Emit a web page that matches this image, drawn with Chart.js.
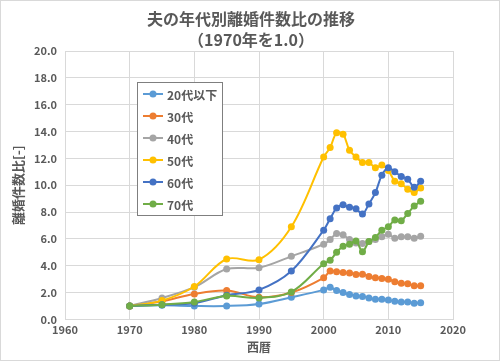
<!DOCTYPE html>
<html>
<head>
<meta charset="utf-8">
<script src="https://cdn.jsdelivr.net/npm/chart.js@4/dist/chart.umd.min.js"></script>
<style>
  html, body { margin: 0; padding: 0; background: #fff; }
  #wrap { width: 500px; height: 361px; position: relative; }
</style>
</head>
<body>
<div id="wrap"><canvas id="divorceChart" width="500" height="361"></canvas></div>
<script>
const years = [1970, 1975, 1980, 1985, 1990, 1995,
  2000, 2001, 2002, 2003, 2004, 2005, 2006, 2007, 2008, 2009, 2010, 2011, 2012, 2013, 2014, 2015];

const titleLines = ['夫の年代別離婚件数比の推移', '（1970年を1.0）'];
const seriesNames = ['20代以下', '30代', '40代', '50代', '60代', '70代'];
const seriesColors = ['#5B9BD5', '#ED7D31', '#A5A5A5', '#FFC000', '#4472C4', '#70AD47'];

const age20 = [1.0, 1.05, 1.0, 1.0, 1.15, 1.65,
  2.2, 2.4, 2.15, 2.0, 1.85, 1.75, 1.7, 1.6, 1.5, 1.5, 1.45, 1.35, 1.3, 1.3, 1.2, 1.25];
const age30 = [1.0, 1.35, 1.9, 2.15, 1.65, 2.0,
  3.1, 3.6, 3.55, 3.5, 3.45, 3.35, 3.37, 3.2, 3.1, 3.05, 3.0, 2.8, 2.7, 2.65, 2.5, 2.5];
const age40 = [1.0, 1.6, 2.4, 3.75, 3.85, 4.7,
  5.6, 5.95, 6.4, 6.3, 5.95, 5.7, 5.65, 5.8, 5.95, 6.15, 6.35, 6.05, 6.15, 6.15, 6.05, 6.2];
const age50 = [1.0, 1.4, 2.45, 4.5, 4.45, 6.9,
  12.1, 12.8, 13.9, 13.8, 12.6, 12.1, 11.7, 11.7, 11.3, 11.5, 11.1, 10.3, 10.1, 9.7, 9.45, 9.8];
const age60 = [1.0, 1.1, 1.2, 1.8, 2.2, 3.6,
  6.65, 7.5, 8.3, 8.55, 8.35, 8.25, 7.85, 8.6, 9.45, 10.75, 11.3, 11.0, 10.65, 10.45, 9.85, 10.3];
const age70 = [1.0, 1.1, 1.3, 1.75, 1.6, 2.05,
  4.15, 4.4, 5.0, 5.45, 5.6, 5.85, 5.05, 5.8, 6.1, 6.65, 6.9, 7.4, 7.35, 7.9, 8.45, 8.8];

const allSeries = [age20, age30, age40, age50, age60, age70];

const textColor = '#595959';
const jpFont = '"Noto Sans CJK JP", "Noto Sans", sans-serif';

// background, outer frame and the two-line title (centred on the whole canvas)
const frame = {
  id: 'frame',
  beforeDraw(chart) {
    const ctx = chart.ctx;
    ctx.save();
    ctx.fillStyle = '#fff';
    ctx.fillRect(0, 0, chart.width, chart.height);
    ctx.strokeStyle = '#d9d9d9';
    ctx.lineWidth = 1;
    ctx.strokeRect(0.5, 0.5, chart.width - 1, chart.height - 1);
    ctx.fillStyle = textColor;
    ctx.font = 'bold 16px ' + jpFont;
    ctx.textAlign = 'center';
    ctx.textBaseline = 'middle';
    titleLines.forEach((t, i) => ctx.fillText(t, 251, 19 + i * 21));
    ctx.restore();
  }
};

// legend box drawn inside the plot, like the original
const boxLegend = {
  id: 'boxLegend',
  afterDraw(chart) {
    const ctx = chart.ctx;
    const x = 137, y = 82, w = 85, h = 133;
    ctx.save();
    ctx.fillStyle = '#fff';
    ctx.fillRect(x, y, w, h);
    ctx.strokeStyle = '#7f7f7f';
    ctx.lineWidth = 1;
    ctx.strokeRect(x + 0.5, y + 0.5, w, h);
    ctx.font = 'bold 12px ' + jpFont;
    ctx.textBaseline = 'middle';
    chart.data.datasets.forEach((ds, i) => {
      const cy = y + 12 + i * 22;
      ctx.strokeStyle = ds.borderColor;
      ctx.lineWidth = 2;
      ctx.beginPath();
      ctx.moveTo(x + 6, cy);
      ctx.lineTo(x + 26, cy);
      ctx.stroke();
      ctx.fillStyle = ds.borderColor;
      ctx.beginPath();
      ctx.arc(x + 16, cy, 3.5, 0, Math.PI * 2);
      ctx.fill();
      ctx.fillStyle = textColor;
      ctx.fillText(ds.label, x + 30, cy + 1);
    });
    ctx.restore();
  }
};

const datasets = seriesNames.map((name, i) => ({
  label: name,
  data: years.map((yr, j) => ({ x: yr, y: allSeries[i][j] })),
  borderColor: seriesColors[i],
  backgroundColor: seriesColors[i],
  borderWidth: 2,
  pointRadius: 3.5,
  pointHoverRadius: 3.5,
  pointBorderWidth: 0,
  tension: 0.35,
  fill: false,
  order: seriesNames.length - i
}));

new Chart(document.getElementById('divorceChart'), {
  type: 'line',
  data: { datasets },
  options: {
    responsive: false,
    animation: false,
    layout: { padding: { left: 6, right: 47, top: 51, bottom: 6 } },
    plugins: {
      legend: { display: false },
      tooltip: { enabled: false },
      title: { display: false }
    },
    scales: {
      x: {
        type: 'linear',
        min: 1960,
        max: 2020,
        ticks: {
          stepSize: 10,
          color: textColor,
          font: { family: jpFont, size: 11, weight: 'bold' },
          padding: 4,
          maxRotation: 0,
          callback: v => String(v)
        },
        grid: { color: '#d9d9d9', drawTicks: false },
        border: { color: '#d9d9d9' },
        title: {
          display: true,
          text: '西暦',
          color: textColor,
          font: { family: jpFont, size: 12, weight: 'bold' },
          padding: { top: 0, bottom: 0 }
        }
      },
      y: {
        min: 0,
        max: 20,
        ticks: {
          stepSize: 2,
          color: textColor,
          font: { family: jpFont, size: 11, weight: 'bold' },
          padding: 8,
          callback: v => v.toFixed(1)
        },
        grid: { color: '#d9d9d9', drawTicks: false },
        border: { display: false },
        title: {
          display: true,
          text: '離婚件数比[-]',
          color: textColor,
          font: { family: jpFont, size: 13, weight: 'bold' },
          padding: { top: 4, bottom: 4 }
        },
        afterFit: s => { s.width = 59; }
      }
    }
  },
  plugins: [frame, boxLegend]
});
</script>
</body>
</html>
